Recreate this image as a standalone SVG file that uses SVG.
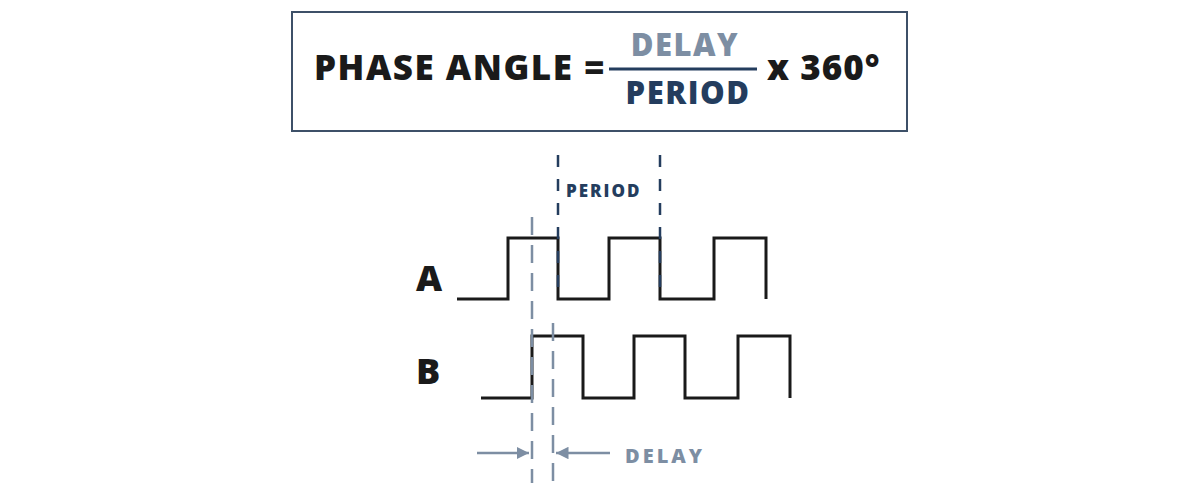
<svg xmlns="http://www.w3.org/2000/svg" width="1200" height="500" viewBox="0 0 1200 500">
<style>
text{font-family:"Open Sans","Noto Sans",sans-serif;font-weight:800}
.w{fill:none;stroke:#1a1a1a;stroke-width:3}
.gd{stroke:#7d8ea3;stroke-width:2.5;stroke-dasharray:18 10;fill:none}
.bd{stroke:#243d5e;stroke-width:2.5;stroke-dasharray:12 12;fill:none}
</style>
<defs><marker id="ah" viewBox="0 0 10 10" refX="10" refY="5" markerWidth="5" markerHeight="5" orient="auto"><path d="M0,0L10,5L0,10z" fill="#7d8ea3"/></marker></defs>
<g id="formula">
<rect x="292" y="12" width="615" height="119" fill="#fff" stroke="#3d5068" stroke-width="2"/>
<text x="314" y="80" font-size="35" fill="#1a1a1a" letter-spacing="1.5">PHASE ANGLE =</text>
<text x="685" y="56" font-size="31" fill="#7d8ea3" text-anchor="middle" letter-spacing="1.5">DELAY</text>
<line x1="609" y1="69" x2="757" y2="69" stroke="#243d5e" stroke-width="3"/>
<text x="688" y="104" font-size="31" fill="#243d5e" text-anchor="middle" letter-spacing="1.5">PERIOD</text>
<text x="767" y="80" font-size="35" fill="#1a1a1a" letter-spacing="1">x 360°</text>
</g>
<g id="labels">
<text x="416" y="291" font-size="36" fill="#1a1a1a">A</text>
<text x="416" y="384" font-size="36" fill="#1a1a1a">B</text>
<text x="566" y="197" font-size="17" fill="#243d5e" letter-spacing="2">PERIOD</text>
<text x="625" y="463" font-size="20" fill="#7d8ea3" letter-spacing="3">DELAY</text>
</g>
<g id="waveA"><path class="w" d="M457,299H508V238H558V299H609V238H660V299H714V238H766V299"/></g>
<g id="waveB"><path class="w" d="M481,398H532V336H583V398H634V336H685V398H738V336H790V398"/></g>
<g id="connectors">
<path class="bd" d="M558,155V299M660,155V299"/>
<path class="gd" d="M532,217V483"/>
<path class="gd" d="M553,323V483"/>
<line x1="477" y1="453" x2="529" y2="453" stroke="#7d8ea3" stroke-width="2.5" marker-end="url(#ah)"/>
<line x1="610" y1="453" x2="556" y2="453" stroke="#7d8ea3" stroke-width="2.5" marker-end="url(#ah)"/>
</g>
</svg>
